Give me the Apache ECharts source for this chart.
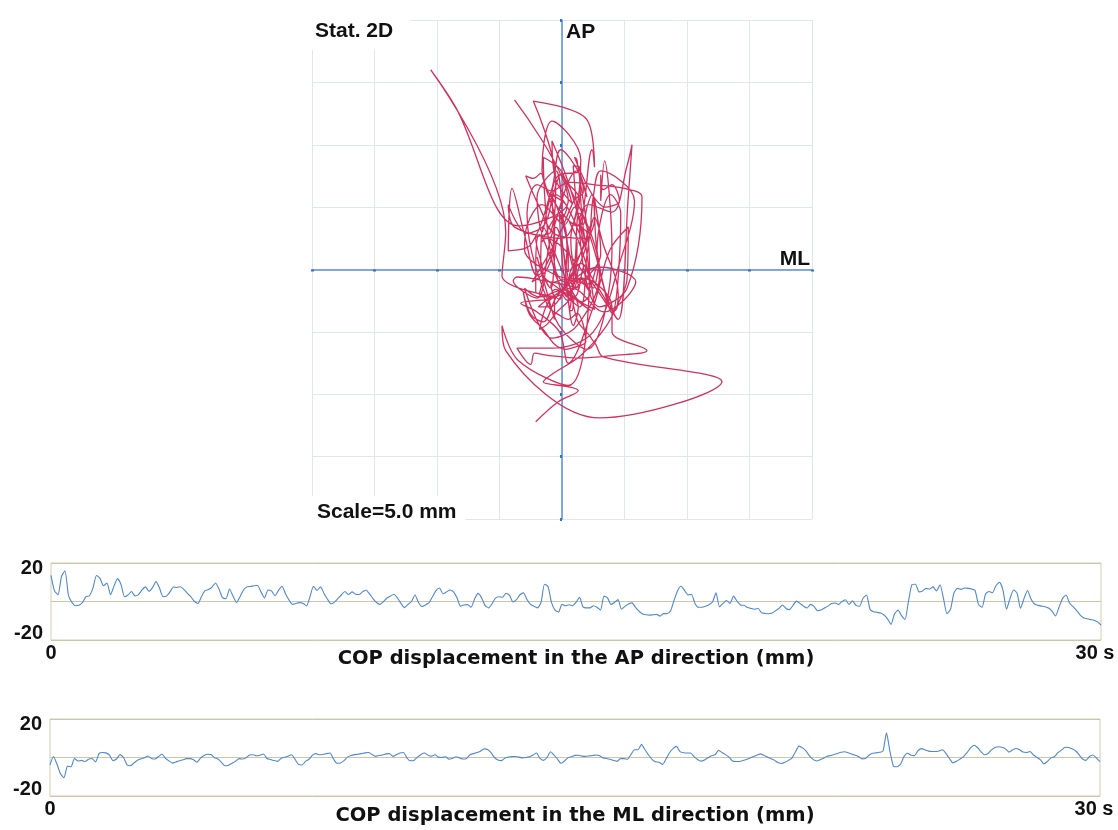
<!DOCTYPE html>
<html><head><meta charset="utf-8">
<script src="https://cdn.jsdelivr.net/npm/echarts/dist/echarts.min.js"></script>
<style>html,body{margin:0;padding:0;background:#fff}#c{width:1118px;height:830px}</style>
</head><body><div id="c"></div>
<script>
// sampling interval of the recorded signals (s)
const SAMPLE_DT = 0.1;
// COP displacement, anterior-posterior (mm), one value per 0.1 s, 0..30 s
const AP = [
13.6,5.5,3.5,13,16,3,-0.5,-2.2,-2.0,-0.5,
2.5,3.0,7.1,13.5,12.0,8.2,9.6,3.5,8.0,11.9,
8.8,2.5,3.4,5.2,2.9,3.6,6.0,7.6,5.3,7.2,
10.3,7.0,2.5,2.8,5.0,7.5,7.3,7.7,6.2,4.2,
2.4,0.0,-1.0,2.6,5.6,6.2,7.5,9.6,6.5,2.0,
1.5,6.5,2.8,-0.5,2.5,6.0,7.6,7.8,8.2,8.3,
5.0,1.8,6.0,5.5,3.0,5.8,7.9,4.0,0.8,-1.5,
-1.0,-0.6,-0.9,-2.3,2.5,7.9,5.8,7.6,4.2,1.2,
-1.2,-0.3,1.6,3.5,5.2,3.6,5.0,3.8,3.6,5.0,
6.0,4.0,1.5,-0.5,-1.5,0.0,1.8,2.9,3.8,1.8,
-1.0,-3.2,-1.5,0.0,3.4,-0.5,-2.6,-1.8,-0.6,2.5,
5.6,7.0,4.0,5.0,6.0,5.0,1.9,-2.4,-1.8,-1.6,
-3.0,1.2,4.2,2.0,-2.0,-3.3,-1.2,1.8,2.5,2.2,
4.3,3.2,-0.2,1.0,3.5,4.5,1.0,-1.5,-2.5,-3.3,
-0.5,9.0,7.8,-0.5,-4.5,-5.5,-1.5,-2.2,-1.7,-2.2,
-0.5,2.2,-2.8,-3.3,-3.3,-2.2,-3.0,-4.5,2.8,1.9,
-1.5,-0.5,1.0,-4.0,-2.5,-1.3,-0.7,-3.0,-5.0,-6.5,
-6.9,-7.1,-6.9,-6.7,-7.6,-6.3,-6.3,-5.0,0.5,5.5,
7.9,5.8,3.5,3.6,-1.0,-3.0,-3.0,-2.5,-1.7,-0.3,
4.5,-2.8,-1.0,0.5,-1.0,2.8,0.2,-1.8,-2.0,-3.1,
-3.6,-4.0,-3.5,-5.8,-6.2,-6.4,-6.0,-4.8,-3.6,-1.8,
-3.6,-4.2,-2.0,0.2,-1.0,-2.4,-3.4,-1.5,-2.5,-4.8,
-4.4,-3.4,-2.4,-1.0,-0.8,-1.6,0.0,0.9,-1.5,0.3,
-2.0,-2.5,1.7,3.4,-4.0,-5.3,-5.6,-6.0,-7.0,-9.0,
-11.9,-6.5,-4.5,-7.3,-9.3,0.2,8.8,9.0,5.0,5.5,
6.8,6.4,7.6,5.5,8.7,1.5,-6.4,-4.0,4.5,6.8,
6.3,7.0,6.8,6.5,5.8,-1.5,-3.0,3.8,5.2,4.6,
8.3,10.0,5.8,-4.0,1.5,6.0,4.5,-3.5,1.5,5.7,
1.3,-1.3,-2.0,-2.4,-2.7,-3.4,-5.0,-7.5,-3.0,1.5,
3.4,-0.8,-2.7,-4.6,-6.9,-8.4,-9.0,-9.4,-9.7,-10.6,
-12.2
];
// COP displacement, medio-lateral (mm), one value per 0.1 s, 0..30 s
const ML = [
-3.8,0.5,-3.5,-8.5,-10.5,-4.5,-4.8,-0.5,-1.8,-1.5,
-2.1,-0.9,-0.5,-2.3,2.0,2.6,2.4,1.2,-1.6,-0.8,
1.5,0.0,-3.8,-4.3,-2.8,-1.4,-0.7,-0.1,0.8,-0.5,
-0.8,0.5,1.8,-0.5,-1.8,-2.9,-2.3,-1.7,-1.2,-0.6,
-0.6,-1.2,-2.4,-0.3,1.0,1.7,1.5,-0.1,-0.8,-2.5,
-4.3,-4.0,-3.0,-2.0,-0.6,-0.8,-0.2,1.3,1.4,0.9,
1.2,1.8,-0.5,-1.0,-1.6,-2.0,-0.5,0.1,0.7,1.4,
-0.9,-3.6,-3.9,-2.0,-0.9,1.2,2.0,1.4,1.6,2.0,
2.3,-0.8,-3.0,-2.8,-1.6,0.2,1.0,1.5,1.7,2.0,
2.4,2.6,1.6,0.6,1.0,1.3,1.9,2.0,0.6,1.5,
2.3,2.6,-0.3,-1.7,-1.5,0.2,1.6,2.3,1.2,0.7,
1.4,0.2,0.0,0.4,-0.9,-0.4,0.4,-0.2,-0.8,-0.5,
1.4,2.0,2.6,3.3,4.5,4.2,2.5,0.0,-1.3,-1.6,
-0.3,0.3,0.5,0.5,0.2,-0.2,0.0,0.4,1.3,2.3,
-0.5,-1.5,0.0,3.0,1.2,-0.8,-3.0,-1.8,-0.1,0.4,
1.1,1.2,0.7,0.6,0.8,1.0,1.3,0.9,-0.2,-0.5,
-0.9,-1.5,-2.0,-0.6,-0.6,-0.9,1.6,4.0,4.0,6.8,
4.0,1.4,-1.0,-2.2,-2.5,-3.6,-0.8,2.5,4.6,5.8,
3.1,2.5,2.3,2.3,0.5,-1.0,-1.9,-1.3,-0.1,0.9,
1.4,3.7,2.6,1.5,0.2,-1.8,-2.1,-2.1,-1.6,-1.0,
-0.3,0.5,1.2,1.9,1.1,0.3,-0.6,-1.5,-2.6,-3.1,
-2.5,-1.5,-0.3,3.0,5.9,5.0,3.4,0.8,-1.0,-1.8,
-1.2,-0.4,0.6,1.0,1.6,2.1,2.7,3.0,2.5,1.8,
1.2,0.5,-0.7,-0.5,1.2,2.2,2.4,2.7,3.3,12.8,
3.0,-4.5,-4.8,-3.5,0.5,2.2,1.2,1.0,3.5,4.6,
4.0,3.3,3.1,3.1,3.4,4.0,2.0,-0.5,-2.8,-2.0,
-0.8,0.5,2.5,5.0,6.4,5.2,3.0,1.4,2.1,4.0,
5.2,5.6,5.3,4.5,2.8,3.9,4.7,4.0,2.8,2.6,
3.1,1.3,0.0,-1.2,-3.3,-2.0,-0.2,0.5,2.5,3.8,
5.3,5.2,4.5,3.5,1.5,-0.8,-1.5,0.5,1.3,-0.3,
-2.1
];
// axis ranges and tick steps
const PLANE_RANGE = [-20, 20];
const PLANE_STEP = 5;
const SIGNAL_RANGE = [-20, 20];
const TIME_RANGE = [0, 30];
// texts
const PLANE_TITLE = 'Stat. 2D';
const PLANE_SCALE = 'Scale=5.0 mm';
const AP_NAME = 'COP displacement in the AP direction (mm)';
const ML_NAME = 'COP displacement in the ML direction (mm)';

const chart = echarts.init(document.getElementById('c'), null, {renderer: 'canvas'});

const timeOf = i => Math.round(i * SAMPLE_DT * 100) / 100;
const apPts = AP.map((v, i) => [timeOf(i), v]);
const mlPts = ML.map((v, i) => [timeOf(i), v]);
const pathPts = ML.map((m, i) => [m, AP[i]]);

const arialB = {fontFamily: '"Liberation Sans", Arial, sans-serif', fontWeight: 'bold', color: '#111'};
const tickFont = Object.assign({fontSize: 20}, arialB);
const nameFont = {fontFamily: '"DejaVu Sans", Verdana, sans-serif', fontWeight: 'bold', fontSize: 19.5, color: '#111', verticalAlign: 'top'};

function signalY(grid) {
  return {
    gridIndex: grid, type: 'value', min: SIGNAL_RANGE[0], max: SIGNAL_RANGE[1], interval: 20,
    axisLine: {show: false}, axisTick: {show: false},
    splitLine: {show: true, lineStyle: {color: '#cdc7a6', width: 1}},
    axisLabel: {
      margin: 8,
      formatter: v => v === SIGNAL_RANGE[1] ? '{hi|' + v + '}' : (v === SIGNAL_RANGE[0] ? '{lo|' + v + '}' : ''),
      rich: {hi: Object.assign({padding: [10, 0, 0, 0]}, tickFont), lo: Object.assign({padding: [0, 0, 13, 0]}, tickFont)}
    }
  };
}
function signalX(grid, name, gap) {
  return {
    gridIndex: grid, type: 'value', min: TIME_RANGE[0], max: TIME_RANGE[1], interval: 30,
    axisLine: {show: false}, axisTick: {show: false}, splitLine: {show: false},
    axisLabel: {
      margin: 3,
      formatter: v => v === TIME_RANGE[1] ? '{e|' + v + ' s}' : '{s|' + v + '}',
      rich: {s: Object.assign({}, tickFont), e: Object.assign({padding: [0, 12, 0, 0]}, tickFont)}
    },
    name: name, nameLocation: 'middle', nameGap: gap, nameMoveOverlap: false, nameTextStyle: nameFont
  };
}

const planeAxisLine = {onZero: true, lineStyle: {color: '#5a91d8', width: 1.5}};
const planeTick = {show: true, length: 2, lineStyle: {color: '#3a73c4', width: 3}};
const planeSplit = {show: true, lineStyle: {color: '#e1e5ec', width: 1}};
const planeNameFont = Object.assign({fontSize: 21}, arialB);

const option = {
  animation: false,
  backgroundColor: '#fff',
  title: [
    {text: PLANE_TITLE, left: 300, top: 0, padding: [21, 17, 8, 15], backgroundColor: '#fff',
     textStyle: Object.assign({fontSize: 21}, arialB)},
    {text: PLANE_SCALE, left: 305, top: 496, padding: [6, 9, 7, 12], backgroundColor: '#fff',
     textStyle: Object.assign({fontSize: 21}, arialB)}
  ],
  grid: [
    {left: 312, top: 20, width: 500, height: 499, outerBoundsMode: 'none'},
    {left: 51, top: 563, width: 1050, height: 77, show: true, borderColor: '#d3ceb2', borderWidth: 1, backgroundColor: '#fff', outerBoundsMode: 'none'},
    {left: 50, top: 719, width: 1050, height: 77, show: true, borderColor: '#d3ceb2', borderWidth: 1, backgroundColor: '#fff', outerBoundsMode: 'none'}
  ],
  xAxis: [
    {gridIndex: 0, type: 'value', min: PLANE_RANGE[0], max: PLANE_RANGE[1], interval: PLANE_STEP,
     axisLine: planeAxisLine, axisTick: planeTick, axisLabel: {show: false}, splitLine: planeSplit,
     name: 'ML', nameLocation: 'end', nameGap: -2, nameMoveOverlap: false,
     nameTextStyle: Object.assign({align: 'right', verticalAlign: 'bottom'}, planeNameFont)},
    signalX(1, AP_NAME, 9),
    signalX(2, ML_NAME, 10)
  ],
  yAxis: [
    {gridIndex: 0, type: 'value', min: PLANE_RANGE[0], max: PLANE_RANGE[1], interval: PLANE_STEP,
     axisLine: planeAxisLine, axisTick: planeTick, axisLabel: {show: false}, splitLine: planeSplit,
     name: 'AP', nameLocation: 'end', nameGap: 0, nameMoveOverlap: false,
     nameTextStyle: Object.assign({align: 'left', verticalAlign: 'top', padding: [2, 0, 0, 4]}, planeNameFont)},
    signalY(1),
    signalY(2)
  ],
  series: [
    {type: 'line', xAxisIndex: 0, yAxisIndex: 0, data: pathPts, showSymbol: false, smooth: 0.35,
     lineStyle: {color: '#d1325f', width: 1.3}, z: 3},
    {type: 'line', xAxisIndex: 1, yAxisIndex: 1, data: apPts, showSymbol: false, smooth: 0.2,
     lineStyle: {color: '#4f88d3', width: 1.1}},
    {type: 'line', xAxisIndex: 2, yAxisIndex: 2, data: mlPts, showSymbol: false, smooth: 0.2,
     lineStyle: {color: '#4f88d3', width: 1.1}}
  ]
};
chart.setOption(option);
</script>
</body></html>
